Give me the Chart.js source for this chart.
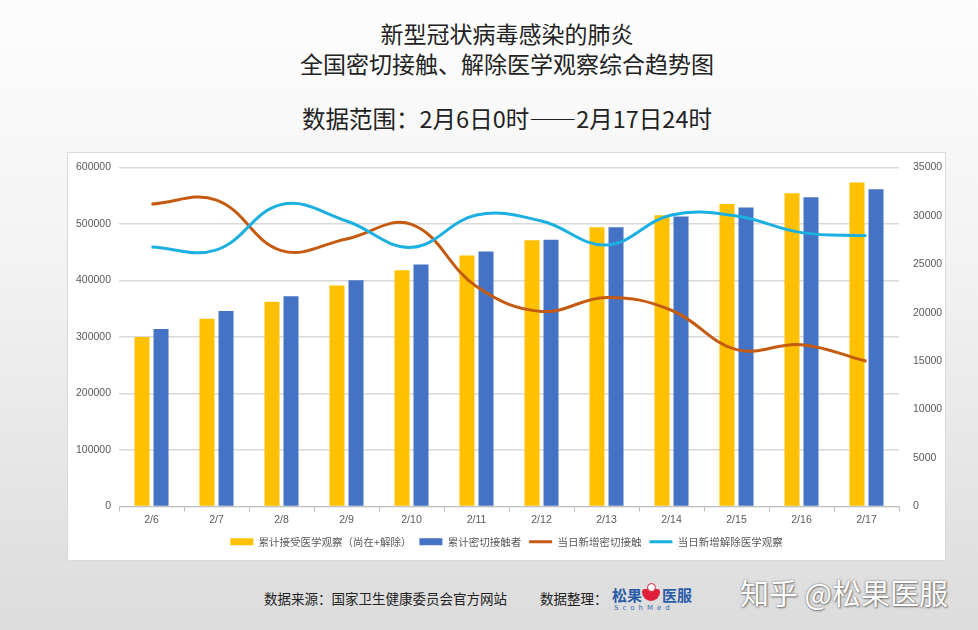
<!DOCTYPE html>
<html lang="zh">
<head>
    <meta charset="UTF-8">
    <title>全国密切接触、解除医学观察综合趋势图</title>
    <script src="https://cdn.jsdelivr.net/npm/chart.js"></script>
    <style>
        html, body {
            margin: 0;
            padding: 0;
        }
        body {
            width: 978px;
            height: 630px;
            position: relative;
            overflow: hidden;
            background: linear-gradient(to bottom, #fdfdfd 0%, #f3f3f3 40%, #dcdcdc 100%);
            font-family: "Noto Sans CJK SC", sans-serif;
        }
        .title {
            position: absolute;
            left: 0;
            width: 1014px;
            text-align: center;
            font-size: 23px;
            color: #222;
            line-height: 30px;
        }
        .panel {
            position: absolute;
            left: 67px;
            top: 152px;
            width: 877px;
            height: 407px;
            background: #fff;
            border: 1px solid #d9d9d9;
        }
        .footer {
            position: absolute;
            top: 588px;
            font-size: 13.5px;
            color: #222;
            white-space: nowrap;
        }
        .logo {
            position: absolute;
            left: 612px;
            top: 584px;
            width: 84px;
            height: 34px;
        }
        .logo .cn {
            position: absolute;
            top: 0;
            font-size: 15px;
            font-weight: bold;
            color: #2b5ca8;
        }
        .logo .cup {
            position: absolute;
            left: 30px;
            top: 5px;
            width: 18px;
            height: 12px;
            background: #e0203a;
            border-radius: 3px 3px 9px 9px;
        }
        .logo .cup::before {
            content: "";
            position: absolute;
            left: 5px;
            top: -6px;
            width: 7px;
            height: 7px;
            border: 1px solid #e0203a;
            border-radius: 50%;
            background: #fff;
        }
        .logo .en {
            position: absolute;
            left: 2px;
            top: 20px;
            font-size: 7px;
            letter-spacing: 4px;
            color: #3a6ab8;
            font-family: "DejaVu Sans", sans-serif;
        }
        .watermark {
            position: absolute;
            left: 740px;
            top: 571px;
            font-size: 29px;
            color: #ffffff;
            white-space: nowrap;
            text-shadow: 0 0 2px rgba(0, 0, 0, 0.5), 1px 1px 2px rgba(0, 0, 0, 0.4);
        }
    </style>
</head>
<body>

    <div class="title" style="top: 18px;">新型冠状病毒感染的肺炎</div>
    <div class="title" style="top: 48px;">全国密切接触、解除医学观察综合趋势图</div>
    <div class="title" style="top: 103px; font-size: 23.5px;">数据范围：2月6日0时——2月17日24时</div>

    <div class="panel">
        <canvas id="trendChart" width="877" height="407"></canvas>
    </div>

    <div class="footer" style="left: 264px;">数据来源：国家卫生健康委员会官方网站</div>
    <div class="footer" style="left: 540px;">数据整理：</div>
    <div class="logo">
        <span class="cn" style="left: 0;">松果</span>
        <span class="cup"></span>
        <span class="cn" style="left: 50px;">医服</span>
        <span class="en">ScohMed</span>
    </div>
    <div class="watermark">知乎 @松果医服</div>

    <script>
        // values
        const dates = ["2/6", "2/7", "2/8", "2/9", "2/10", "2/11", "2/12", "2/13", "2/14", "2/15", "2/16", "2/17"];
        const observedTotal = [300000, 332000, 362000, 391000, 418000, 444000, 471000, 494000, 515000, 535000, 554000, 573000];
        const contactsTotal = [314000, 346000, 372000, 400000, 428000, 451000, 472000, 494000, 513000, 529000, 547000, 561000];
        const newContacts = [31210, 31620, 26400, 27610, 29110, 22700, 20130, 21570, 20250, 16190, 16700, 14980];
        const newReleased = [26780, 26480, 31170, 29460, 26740, 30080, 29460, 26990, 30080, 29980, 28260, 27950];

        const labelColor = "#595959";
        Chart.defaults.font.family = "'Liberation Sans', 'Noto Sans CJK SC', sans-serif";
        Chart.defaults.color = labelColor;

        const plainNumber = function (value) { return String(value); };

        const ctx = document.getElementById("trendChart").getContext("2d");
        new Chart(ctx, {
            type: "bar",
            data: {
                labels: dates,
                datasets: [
                    {
                        label: "累计接受医学观察（尚在+解除）",
                        data: observedTotal,
                        backgroundColor: "#FFC000",
                        pointStyle: "rect",
                        yAxisID: "y",
                        categoryPercentage: 0.585,
                        barPercentage: 0.79,
                        order: 3
                    },
                    {
                        label: "累计密切接触者",
                        data: contactsTotal,
                        backgroundColor: "#4472C4",
                        pointStyle: "rect",
                        yAxisID: "y",
                        categoryPercentage: 0.585,
                        barPercentage: 0.79,
                        order: 3
                    },
                    {
                        type: "line",
                        label: "当日新增密切接触",
                        data: newContacts,
                        borderColor: "#C55A11",
                        backgroundColor: "#C55A11",
                        borderWidth: 3,
                        tension: 0.4,
                        pointRadius: 0,
                        pointStyle: "line",
                        yAxisID: "y1",
                        order: 2
                    },
                    {
                        type: "line",
                        label: "当日新增解除医学观察",
                        data: newReleased,
                        borderColor: "#1CB0E2",
                        backgroundColor: "#1CB0E2",
                        borderWidth: 3,
                        tension: 0.4,
                        pointRadius: 0,
                        pointStyle: "line",
                        yAxisID: "y1",
                        order: 1
                    }
                ]
            },
            options: {
                responsive: false,
                animation: false,
                layout: {
                    padding: { top: 12, left: 0, right: 0, bottom: 3 }
                },
                plugins: {
                    title: { display: false },
                    tooltip: { enabled: false },
                    legend: {
                        display: true,
                        position: "bottom",
                        labels: {
                            usePointStyle: true,
                            pointStyleWidth: 23,
                            boxWidth: 23,
                            boxHeight: 7,
                            padding: 8,
                            color: labelColor,
                            font: { size: 10.5, family: "'Noto Sans CJK SC', sans-serif" },
                            sort: function (a, b) { return a.datasetIndex - b.datasetIndex; }
                        }
                    }
                },
                scales: {
                    x: {
                        grid: {
                            display: true,
                            drawOnChartArea: false,
                            tickLength: 5,
                            color: "#bfbfbf"
                        },
                        border: { display: true, color: "#bfbfbf" },
                        ticks: {
                            color: labelColor,
                            font: { size: 10.5 },
                            padding: 2
                        },
                        afterFit: function (scale) { scale.height = 22; }
                    },
                    y: {
                        position: "left",
                        min: 0,
                        max: 600000,
                        ticks: {
                            stepSize: 100000,
                            color: labelColor,
                            font: { size: 10.5 },
                            padding: 8,
                            callback: plainNumber
                        },
                        grid: {
                            color: "#d9d9d9",
                            lineWidth: 1.5,
                            drawTicks: false
                        },
                        border: { display: false },
                        afterFit: function (scale) { scale.width = 51; }
                    },
                    y1: {
                        position: "right",
                        min: 0,
                        max: 35000,
                        ticks: {
                            stepSize: 5000,
                            color: labelColor,
                            font: { size: 10.5 },
                            padding: 6,
                            callback: plainNumber
                        },
                        grid: { display: false },
                        border: { display: false },
                        afterFit: function (scale) { scale.width = 46; }
                    }
                }
            }
        });
    </script>

</body>
</html>
